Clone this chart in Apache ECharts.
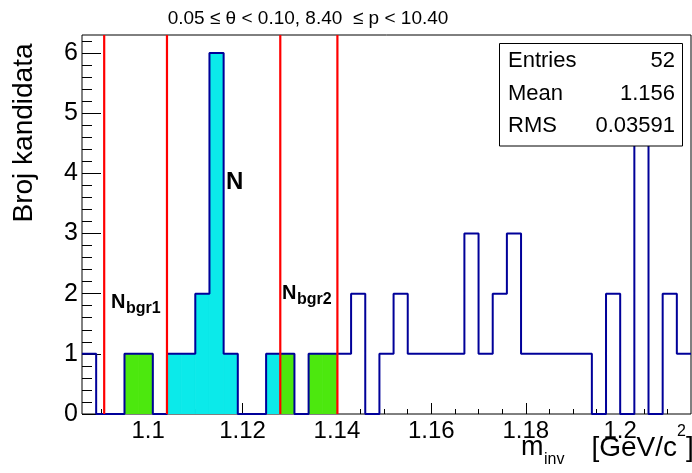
<!DOCTYPE html>
<html><head><meta charset="utf-8">
<script src="https://cdn.jsdelivr.net/npm/echarts@6/dist/echarts.min.js"></script>
<style>html,body{margin:0;padding:0;background:#fff}#c{width:692px;height:473px}</style>
</head><body><div id="c"></div>
<script>
// ---- data ----
const binEdges = [1.086,1.089,1.092,1.095,1.098,1.101,1.104,1.107,1.110,1.113,1.116,1.119,1.122,1.125,1.128,1.131,1.134,1.137,1.140,1.143,1.146,1.149,1.152,1.155,1.158,1.161,1.164,1.167,1.170,1.173,1.176,1.179,1.182,1.185,1.188,1.191,1.194,1.197,1.200,1.203,1.206,1.209,1.212,1.215];
const counts = [1,0,0,1,1,0,1,1,2,6,1,0,0,1,1,0,1,1,1,2,0,1,2,1,1,1,1,3,1,2,3,1,1,1,1,1,0,2,0,5,0,2,1];
const windowEdges = [1.0907, 1.104, 1.128, 1.1401]; // red lines: bgr1 | signal | bgr2
const xMajorTicks = [1.1,1.12,1.14,1.16,1.18,1.2];
const xMinorTicks = [1.09,1.095,1.105,1.11,1.115,1.125,1.13,1.135,1.145,1.15,1.155,1.165,1.17,1.175,1.185,1.19,1.195,1.205,1.21];
const yMajorTicks = [0,1,2,3,4,5,6];
const yMinorTicks = [0.2,0.4,0.6,0.8,1.2,1.4,1.6,1.8,2.2,2.4,2.6,2.8,3.2,3.4,3.6,3.8,4.2,4.4,4.6,4.8,5.2,5.4,5.6,5.8,6.2];
const yRange = [0, 6.3];
const titleText = '0.05 \u2264 \u03b8 < 0.10, 8.40  \u2264 p < 10.40';
const statsLabels = ['Entries','Mean','RMS'];
const statsValues = ['52','1.156','0.03591'];

// ---- chart ----
const FONT = '"Liberation Sans", Arial, sans-serif';
const chart = echarts.init(document.getElementById('c'));

const fillData = counts.map((c, i) => [binEdges[i], binEdges[i+1], c]);
const outlineData = binEdges.map((e, i) => [e, counts[Math.min(i, counts.length - 1)]]);

function regionFor(x0, x1) {
  const mid = (x0 + x1) / 2;
  if (mid >= windowEdges[0] && mid < windowEdges[1]) return [windowEdges[0], windowEdges[1], '#4ce80e'];
  if (mid >= windowEdges[1] && mid < windowEdges[2]) return [windowEdges[1], windowEdges[2], '#0beaea'];
  if (mid >= windowEdges[2] && mid < windowEdges[3]) return [windowEdges[2], windowEdges[3], '#4ce80e'];
  return null;
}

const axisFont = {color:'#000', fontFamily: FONT};

function txt(text, x, y, size, opts) {
  return {
    type:'text', z: 100,
    style: Object.assign({text, x, y, font: (opts && opts.bold ? 'bold ' : '') + size + 'px ' + FONT,
      fill:'#000', textAlign:'left', textVerticalAlign:'middle'}, (opts && opts.style) || {})
  };
}

const option = {
  animation: false,
  grid: {left: 82, right: 1, top: 35, bottom: 59, show: true, borderColor: '#000', borderWidth: 1,
         backgroundColor: 'transparent', containLabel: false, outerBoundsMode: 'none'},
  xAxis: [
    {type:'value', min: binEdges[0], max: binEdges[binEdges.length-1], position:'bottom',
     axisLine:{show:false}, splitLine:{show:false},
     axisTick:{show:true, inside:true, length:11, customValues: xMajorTicks, lineStyle:{color:'#000', width:1}},
     axisLabel:{show:true, customValues: xMajorTicks, fontSize:24, margin:5, ...axisFont,
       formatter: v => String(+v.toFixed(3))}},
    {type:'value', min: binEdges[0], max: binEdges[binEdges.length-1], position:'bottom', offset:0,
     axisLine:{show:false}, splitLine:{show:false}, axisLabel:{show:false},
     axisTick:{show:true, inside:true, length:5, customValues: xMinorTicks, lineStyle:{color:'#000', width:1}}}
  ],
  yAxis: [
    {type:'value', min:yRange[0], max:yRange[1], position:'left',
     axisLine:{show:false}, splitLine:{show:false},
     axisTick:{show:true, inside:true, length:19, customValues: yMajorTicks, lineStyle:{color:'#000', width:1}},
     axisLabel:{show:true, customValues: yMajorTicks, fontSize:25, margin:4, ...axisFont}},
    {type:'value', min:yRange[0], max:yRange[1], position:'left', offset:0,
     axisLine:{show:false}, splitLine:{show:false}, axisLabel:{show:false},
     axisTick:{show:true, inside:true, length:10, customValues: yMinorTicks, lineStyle:{color:'#000', width:1}}}
  ],
  series: [
    {type:'custom', xAxisIndex:0, yAxisIndex:0, z:2, clip:true,
     data: fillData,
     renderItem: (params, api) => {
       const x0 = api.value(0), x1 = api.value(1), c = api.value(2);
       const r = regionFor(x0, x1);
       if (!r || c <= 0) return null;
       const a = Math.max(x0, r[0]), b = Math.min(x1, r[1]);
       const p0 = api.coord([a, c]), p1 = api.coord([b, 0]);
       return {type:'rect', shape:{x:p0[0], y:p0[1], width:p1[0]-p0[0], height:p1[1]-p0[1]},
               style:{fill:r[2], stroke:r[2], lineWidth:0.8}};
     }},
    {type:'line', xAxisIndex:0, yAxisIndex:0, z:3, step:'end', symbol:'none', clip:true,
     data: outlineData, lineStyle:{color:'#000099', width:2}, silent:true},
    {type:'custom', xAxisIndex:0, yAxisIndex:0, z:4, clip:true, silent:true,
     data: windowEdges.map(v => [v]),
     renderItem: (params, api) => {
       const v = api.value(0);
       const p0 = api.coord([v, yRange[0]]), p1 = api.coord([v, yRange[1]]);
       return {type:'line', shape:{x1:p0[0], y1:p0[1], x2:p1[0], y2:p1[1]},
               style:{stroke:'#ff0000', lineWidth:2.2}};
     }}
  ],
  graphic: [
    txt(titleText, 308, 19, 19, {style:{textAlign:'center'}}),
    {type:'text', z:100, x:24, y:133, rotation: Math.PI/2,
     style:{text:'Broj kandidata', x:0, y:0, font:'28px ' + FONT, fill:'#000', textAlign:'center', textVerticalAlign:'middle'}},
    // x axis title m_inv [GeV/c^2]
    txt('m', 521, 448, 27),
    txt('inv', 544, 460, 16),
    txt('[GeV/c', 677, 448, 28, {style:{textAlign:'right'}}),
    txt('2', 677, 432, 16),
    txt(']', 686, 448, 28),
    // region labels
    txt('N', 226, 182.5, 24, {bold:true}),
    txt('N', 111, 302, 20, {bold:true}),
    txt('bgr1', 126, 309, 16, {bold:true}),
    txt('N', 282, 293.5, 20, {bold:true}),
    txt('bgr2', 297, 300, 16, {bold:true}),
    // stats box
    {type:'rect', z:90, shape:{x:499.5, y:43.5, width:183, height:102.5},
     style:{fill:'#fff', stroke:'#000', lineWidth:1}},
    txt(statsLabels[0], 508, 61, 22),
    txt(statsLabels[1], 508, 94, 22),
    txt(statsLabels[2], 508, 126, 22),
    txt(statsValues[0], 675, 61, 22, {style:{textAlign:'right'}}),
    txt(statsValues[1], 675, 94, 22, {style:{textAlign:'right'}}),
    txt(statsValues[2], 675, 126, 22, {style:{textAlign:'right'}})
  ]
};
chart.setOption(option);
</script>
</body></html>
